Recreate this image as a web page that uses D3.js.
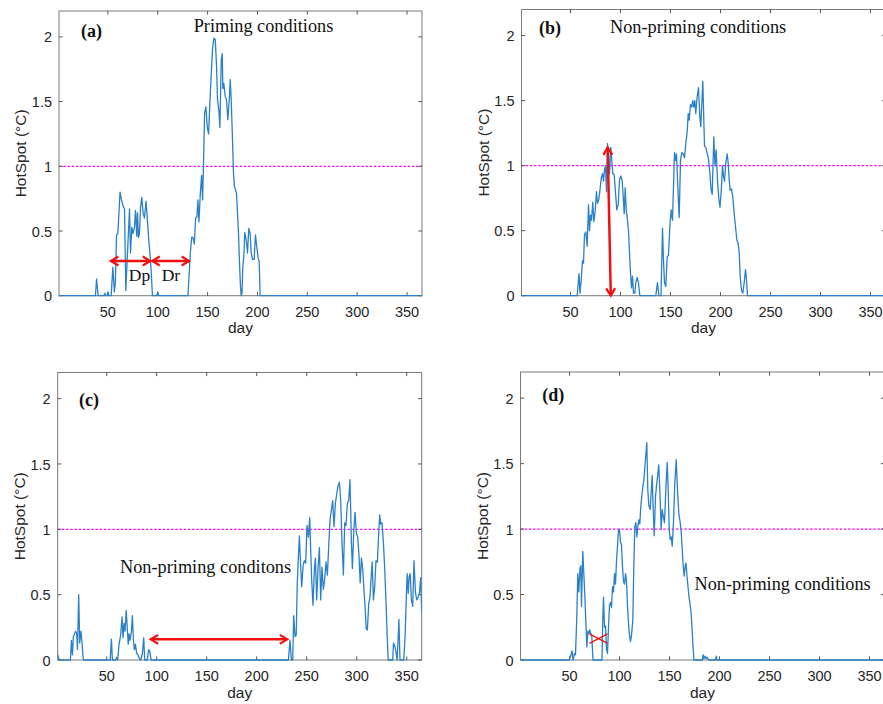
<!DOCTYPE html>
<html><head><meta charset="utf-8">
<script src="https://cdn.jsdelivr.net/npm/d3@7"></script>
<style>body{margin:0;background:#fff;overflow:hidden} svg{display:block}</style>
</head><body>
<svg id="chart" width="883" height="704"></svg>
<script>
// ---------- data ----------
const xTicks = [50, 100, 150, 200, 250, 300, 350];
const yTicks = [0, 0.5, 1, 1.5, 2];
const yTickLabels = ["0", "0.5", "1", "1.5", "2"];
const dayDomain = [1, 365];
const hotDomain = [0, 2.2];
const threshold = 1;

// [day, HotSpot °C]
const seriesA = [[1,0],[37.5,0],[38.7,0.13],[40.2,0],[46,0],[47,0.02],[48,0],[49.5,0],[50,0.03],[51,0],[53.3,0],[55,0.22],[56.5,0.03],[57.5,0.1],[58.7,0.47],[60,0.48],[62.2,0.8],[63.7,0.74],[65.3,0.69],[66.7,0.67],[68,0.04],[69.5,0.3],[71.7,0.67],[72.7,0.33],[74,0.53],[75.3,0.48],[76.7,0.53],[77.7,0.66],[79,0.46],[79.7,0.64],[80.7,0.45],[81.7,0.48],[82.7,0.68],[84,0.76],[85.3,0.64],[86.7,0.6],[88.3,0.73],[89.7,0.58],[91,0.43],[92.7,0.28],[93.7,0.15],[94.7,0],[99,0],[100,0.03],[101,0],[130.3,0],[132.7,0.33],[134,0.45],[135.3,0.45],[136.7,0.4],[138,0.6],[139.3,0.61],[140.3,0.74],[141.3,0.57],[142.7,0.79],[144,0.93],[145,0.74],[146,1.05],[147,1.41],[148.3,1.46],[149.7,1.3],[151,1.25],[152.3,1.49],[153.7,1.72],[155,1.91],[156.3,1.99],[157.7,1.98],[159,1.77],[160,1.51],[161.3,1.43],[162.3,1.3],[163.7,1.82],[164.7,1.87],[165.3,1.6],[166.3,1.64],[167.7,1.54],[169,1.51],[170.3,1.36],[171.7,1.51],[172.7,1.67],[173.7,1.51],[175,1.2],[176,0.94],[177,0.84],[178,0.82],[179,0.79],[180,0.64],[181,0.48],[182,0.25],[183,0.07],[183.7,0],[184.5,0.02],[185.3,0.22],[186.3,0.3],[187.3,0.49],[188.7,0.43],[190,0.33],[191.3,0.52],[192.7,0.48],[193.7,0.33],[195,0.28],[196.7,0.28],[198,0.47],[199.3,0.38],[200.7,0.29],[201.7,0.27],[202.7,0],[365,0]];

const seriesB = [[1,0],[56.7,0],[58.5,0.17],[59.5,0.02],[60.7,0.12],[62,0.27],[63,0.25],[64,0.47],[65.3,0.49],[66.7,0.38],[68,0.7],[69,0.5],[70,0.62],[71,0.58],[72.3,0.72],[73.3,0.57],[74.7,0.65],[76,0.8],[77,0.71],[78.3,0.74],[79.3,0.8],[80.7,0.9],[82,0.94],[83,0.88],[84,0.97],[85,1.0],[86,0.8],[87,1.17],[88,1.07],[89,0.94],[90.3,1.14],[91.3,1.04],[92.3,0.94],[93.7,0.93],[95,0.79],[96.3,0.66],[97.7,0.7],[99,0.89],[100.3,0.92],[101.7,0.88],[102.7,0.76],[103.7,0.63],[104.7,0.83],[105.7,0.66],[106.7,0.6],[108,0.5],[109,0.33],[110,0.17],[111,0.06],[112,0.15],[113,0.02],[114.3,0.02],[115.3,0.1],[116.7,0.14],[118,0.1],[119.3,0],[135.3,0],[137,0.1],[138.3,0],[140.5,0],[142,0.52],[143,0.27],[144,0.1],[145.3,0.07],[146.7,0.3],[148,0.31],[149.3,0.53],[150.7,0.66],[152,0.58],[154,1.1],[155,1.04],[156,1.09],[157.3,0.84],[158.7,0.6],[160,1.04],[161.3,1.1],[162.7,1.09],[164,1.06],[165.3,1.17],[166.7,1.26],[167.7,1.4],[168.7,1.35],[170,1.47],[171.3,1.45],[172.3,1.5],[173.3,1.45],[174.3,1.5],[175.3,1.4],[176.5,1.52],[178,1.6],[179.3,1.38],[180.3,1.3],[182.3,1.65],[184,1.15],[185.3,1.14],[186.5,1.1],[188,1.05],[189.3,0.95],[190.5,0.82],[191.7,0.78],[193.3,1.22],[194.5,1.0],[195.7,1.12],[197,0.88],[198.3,0.75],[199.5,0.68],[200.7,0.8],[202,1.0],[203,0.92],[204,0.88],[205.3,1.02],[206.7,1.09],[207.7,1.02],[208.7,0.89],[209.7,0.81],[211,0.82],[212.3,0.76],[213.7,0.63],[215,0.53],[216.3,0.43],[217.7,0.4],[218.7,0.33],[219.7,0.15],[221,0.04],[222.3,0.02],[223.7,0.1],[225,0.2],[226,0.12],[227,0],[365,0]];

const seriesC = [[1,0.04],[2.5,0],[13.7,0],[14.7,0.15],[15.7,0.04],[16.7,0.18],[17.7,0.2],[19,0.22],[20,0.2],[20.8,0.08],[22,0.5],[23,0.13],[24.3,0.22],[25.3,0.13],[26.5,0.01],[27.3,0],[53.5,0],[54.7,0.16],[55.7,0],[59,0],[60,0.02],[61,0],[62.3,0.12],[64,0.19],[65.3,0.33],[66.3,0.17],[67.3,0.28],[68.3,0.22],[69.5,0.38],[70.5,0.25],[71.5,0.12],[72.3,0.2],[73.3,0.15],[74.7,0.22],[75.7,0.34],[76.7,0.15],[77.7,0.08],[78.7,0.12],[80,0.05],[81.3,0.04],[82.7,0.01],[84,0],[85.7,0.05],[87,0.17],[88,0],[90.5,0],[92,0.08],[93.3,0.06],[94.3,0],[231.7,0],[233.3,0.15],[234.7,0],[236,0],[237,0.34],[238.3,0.18],[239.5,0.19],[240.5,0.57],[241.5,0.76],[242.7,0.95],[243.7,0.76],[245,0.56],[246.5,0.73],[247.7,0.76],[249,0.74],[250.3,1.03],[251.7,0.94],[253,1.09],[254,0.84],[255,0.61],[256.3,0.42],[257.7,0.7],[258.7,0.78],[260,0.46],[261.3,0.7],[262.7,0.86],[264,0.46],[265.3,0.71],[266.7,0.54],[268,0.62],[269.3,0.75],[270.7,0.65],[272,0.87],[273.3,1.07],[274.7,1.15],[276,1.22],[277.3,1.02],[278.7,1.2],[280,1.27],[281.3,1.33],[282.7,1.36],[284,1.22],[285.3,0.9],[286.7,0.65],[288,1.05],[289.3,1.03],[290.7,1.2],[292,1.22],[293.3,1.38],[294.7,0.9],[295.7,0.7],[297,0.97],[298.3,1.13],[299.7,0.97],[301,0.94],[302.3,0.8],[303.5,0.59],[304.7,0.78],[306,0.7],[307.3,0.53],[308.5,0.39],[309.5,0.24],[310.7,0.23],[312,0.43],[313.3,0.48],[314.5,0.64],[315.5,0.75],[316.7,0.46],[318,0.56],[319.3,0.76],[320.7,0.75],[322,0.97],[323,1.11],[324,1.04],[325.3,1.05],[326.7,0.9],[328,0.7],[329.3,0.45],[330.5,0.18],[331.5,0],[336,0],[336.8,0.13],[338.3,0.1],[339.5,0.05],[340.5,0],[342.2,0.31],[343.3,0],[347,0],[348.5,0.2],[349.5,0.46],[350.5,0.66],[351.5,0.51],[352.5,0.64],[353.5,0.66],[354.7,0.46],[356,0.41],[357.3,0.76],[358.7,0.52],[360,0.46],[361.3,0.48],[362.7,0.51],[364,0.63],[365,0.36]];

const seriesD = [[1,0],[50,0],[51,0.03],[52.5,0.07],[53.5,0],[55,0.05],[56,0.04],[57.3,0.33],[58.3,0.66],[59.3,0.52],[60.5,0.7],[61.3,0.72],[62,0.41],[63.3,0.83],[64.3,0.66],[65.3,0.5],[66.3,0.3],[67.3,0.1],[68.3,0.22],[69.3,0.2],[70.3,0.23],[71.3,0.2],[72.3,0.18],[73.5,0],[82.5,0],[83.2,0.28],[84,0.48],[85,0.25],[86,0.26],[87,0.08],[88,0.05],[89,0.25],[90,0.42],[91,0.44],[92,0.4],[93,0.56],[94,0.52],[95,0.66],[96,0.58],[97,0.76],[98,0.87],[99,0.99],[100,1.0],[101,0.9],[102,0.88],[103,0.71],[104,0.6],[105,0.58],[106,0.66],[107,0.6],[108,0.41],[109,0.28],[110,0.19],[111,0.14],[112,0.19],[113.3,0.3],[114.3,0.71],[115.3,1.02],[116.3,1.05],[117.3,0.94],[118.3,1.02],[119.3,1.07],[120.3,1.04],[121.3,1.17],[122.3,1.25],[123.3,1.32],[124.3,1.37],[125.3,1.47],[127.3,1.66],[128.3,1.3],[129.3,1.18],[130.7,1.15],[132.7,1.41],[133.7,1.15],[134.7,0.95],[136,1.25],[137.3,1.35],[139.3,1.49],[140.3,1.3],[141.7,1.0],[142.7,1.15],[143.7,1.1],[145,1.05],[146.3,1.3],[147.7,1.51],[148.7,1.3],[149.7,1.0],[150.7,0.92],[151.7,0.94],[152.7,0.87],[154,1.05],[155.3,1.35],[156.7,1.53],[158,1.3],[159.3,1.12],[160.7,1.05],[161.7,0.98],[162.7,0.85],[163.7,0.72],[164.7,0.64],[165.7,0.72],[166.5,0.74],[167.5,0.64],[168.5,0.56],[169.5,0.48],[170.5,0.43],[171.5,0.37],[172.5,0.25],[173.5,0.1],[174.5,0],[183,0],[183.5,0.04],[184.5,0.01],[185.7,0.03],[186.7,0.01],[187.7,0.02],[189,0],[196,0],[196.7,0.03],[197.5,0],[365,0]];

// ---------- layout ----------
const SANS = "'Liberation Sans', Arial, Helvetica, sans-serif";
const SERIF = "'Liberation Serif', 'Times New Roman', Times, serif";
const panels = [
  {data: seriesA, left: 59,    top: 11,    w: 363, h: 284.7, tag: "(a)", tagAt: [23, 2.0],
   title: "Priming conditions", titleAt: [136, 2.035]},
  {data: seriesB, left: 521.5, top: 9.5,   w: 364, h: 286.2, tag: "(b)", tagAt: [18.5, 2.01],
   title: "Non-priming conditions", titleAt: [89.5, 2.02]},
  {data: seriesC, left: 57.7,  top: 372.5, w: 364, h: 287.5, tag: "(c)", tagAt: [22.3, 1.94],
   title: "Non-priming conditons", titleAt: [63.3, 0.668]},
  {data: seriesD, left: 520.5, top: 372,   w: 364, h: 288,   tag: "(d)", tagAt: [22.7, 1.975],
   title: "Non-priming conditions", titleAt: [175, 0.535]}
];

const svg = d3.select("#chart");
const AX = "#7a7a7a", TXT = "#262626", BLUE = "#2a80c9", RED = "#f01010";

function arrowHead(g, tip, from, len, half) {
  const dx = tip[0] - from[0], dy = tip[1] - from[1];
  const L = Math.hypot(dx, dy), ux = dx / L, uy = dy / L;
  const bx = tip[0] - ux * len, by = tip[1] - uy * len;
  const p1 = [bx - uy * half, by + ux * half], p2 = [bx + uy * half, by - ux * half];
  g.append("path").attr("d", d3.line()([p1, tip, p2]))
    .attr("fill", "none").attr("stroke", RED).attr("stroke-width", 2.2);
}
function dblArrow(g, a, b) {
  g.append("line").attr("x1", a[0]).attr("y1", a[1]).attr("x2", b[0]).attr("y2", b[1])
    .attr("stroke", RED).attr("stroke-width", 2.5);
  arrowHead(g, a, b, 7.5, 4.5);
  arrowHead(g, b, a, 7.5, 4.5);
}

panels.forEach((p, i) => {
  const x = d3.scaleLinear().domain(dayDomain).range([p.left, p.left + p.w]);
  const y = d3.scaleLinear().domain(hotDomain).range([p.top + p.h, p.top]);
  const g = svg.append("g");
  const bottom = p.top + p.h, right = p.left + p.w;

  // threshold line
  g.append("line").attr("x1", p.left).attr("x2", right)
    .attr("y1", y(threshold)).attr("y2", y(threshold))
    .attr("stroke", "#ff00ff").attr("stroke-width", 1.2).attr("stroke-dasharray", "2.4,1.8");

  // box
  g.append("rect").attr("x", p.left).attr("y", p.top).attr("width", p.w).attr("height", p.h)
    .attr("fill", "none").attr("stroke", AX).attr("stroke-width", 1);

  // ticks (inward, mirrored)
  const tl = 3.6;
  xTicks.forEach(t => {
    g.append("line").attr("x1", x(t)).attr("x2", x(t)).attr("y1", bottom).attr("y2", bottom - tl)
      .attr("stroke", "#555").attr("stroke-width", 1);
    g.append("line").attr("x1", x(t)).attr("x2", x(t)).attr("y1", p.top).attr("y2", p.top + tl)
      .attr("stroke", "#555").attr("stroke-width", 1);
    g.append("text").attr("x", x(t)).attr("y", bottom + 21).attr("text-anchor", "middle")
      .attr("font-family", SANS).attr("font-size", 14.5).attr("fill", TXT).text(t);
  });
  yTicks.forEach((t, k) => {
    g.append("line").attr("x1", p.left).attr("x2", p.left + tl).attr("y1", y(t)).attr("y2", y(t))
      .attr("stroke", "#555").attr("stroke-width", 1);
    g.append("line").attr("x1", right).attr("x2", right - tl).attr("y1", y(t)).attr("y2", y(t))
      .attr("stroke", "#555").attr("stroke-width", 1);
    g.append("text").attr("x", p.left - 7).attr("y", y(t) + 5.6).attr("text-anchor", "end")
      .attr("font-family", SANS).attr("font-size", 14.5).attr("fill", TXT).text(yTickLabels[k]);
  });

  // axis titles
  g.append("text").attr("x", (p.left + right) / 2).attr("y", bottom + 37.5).attr("text-anchor", "middle")
    .attr("font-family", SANS).attr("font-size", 15.5).attr("fill", TXT).text("day");
  g.append("text")
    .attr("transform", `translate(${p.left - 33},${(p.top + bottom) / 2}) rotate(-90)`)
    .attr("text-anchor", "middle").attr("font-family", SANS).attr("font-size", 15.5)
    .attr("fill", TXT).text("HotSpot (°C)");

  // data line
  const clipId = "clip" + i;
  svg.append("clipPath").attr("id", clipId).append("rect")
    .attr("x", p.left).attr("y", p.top - 2).attr("width", p.w).attr("height", p.h + 4);
  g.append("path").datum(p.data)
    .attr("clip-path", `url(#${clipId})`)
    .attr("d", d3.line().x(d => x(d[0])).y(d => y(d[1])))
    .attr("fill", "none").attr("stroke", BLUE).attr("stroke-width", 1.3)
    .attr("stroke-linejoin", "round");

  // panel texts
  g.append("text").attr("x", x(p.tagAt[0])).attr("y", y(p.tagAt[1]))
    .attr("font-family", SERIF).attr("font-weight", "bold").attr("font-size", 18)
    .attr("fill", "#111").text(p.tag);
  g.append("text").attr("x", x(p.titleAt[0])).attr("y", y(p.titleAt[1]))
    .attr("font-family", SERIF).attr("font-size", 18.3).attr("fill", "#111").text(p.title);

  p.x = x; p.y = y; p.g = g;
});

// ---------- annotations ----------
{
  const A = panels[0];
  dblArrow(A.g, [A.x(53), A.y(0.268)], [A.x(92.5), A.y(0.268)]);
  dblArrow(A.g, [A.x(94.5), A.y(0.268)], [A.x(131.5), A.y(0.268)]);
  A.g.append("text").attr("x", A.x(71)).attr("y", A.y(0.11))
    .attr("font-family", SERIF).attr("font-size", 17.5).attr("fill", "#111").text("Dp");
  A.g.append("text").attr("x", A.x(104)).attr("y", A.y(0.11))
    .attr("font-family", SERIF).attr("font-size", 17.5).attr("fill", "#111").text("Dr");

  const B = panels[1];
  dblArrow(B.g, [B.x(87.2), B.y(1.14)], [B.x(90.3), B.y(0)]);

  const C = panels[2];
  dblArrow(C.g, [C.x(94), C.y(0.158)], [C.x(230.6), C.y(0.158)]);

  const D = panels[3];
  [[[70, 0.2], [88, 0.127]], [[70, 0.127], [88, 0.2]]].forEach(s => {
    D.g.append("line").attr("x1", D.x(s[0][0])).attr("y1", D.y(s[0][1]))
      .attr("x2", D.x(s[1][0])).attr("y2", D.y(s[1][1]))
      .attr("stroke", RED).attr("stroke-width", 1.3);
  });
}
</script>
</body></html>
